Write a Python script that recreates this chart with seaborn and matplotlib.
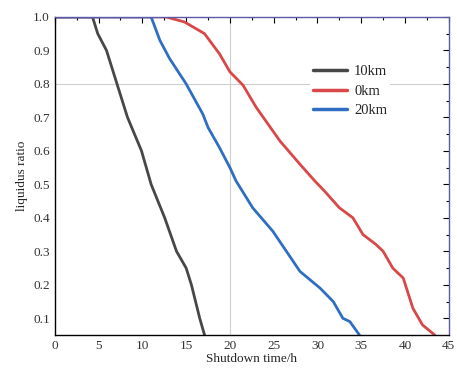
import numpy as np
import pandas as pd
import matplotlib
matplotlib.use('Agg')
import matplotlib.pyplot as plt
import seaborn as sns

# Curves (time in h, liquidus ratio)
t_10km = [0, 4.3, 4.9, 5.9, 7.1, 8.3, 9.9, 11.0, 12.55, 13.9, 15.0, 15.6, 16.55, 17.1]
r_10km = [1.0, 1.0, 0.95, 0.9, 0.8, 0.7, 0.6, 0.5, 0.4, 0.3, 0.25, 0.2, 0.1, 0.05]

t_0km = [0, 12.7, 14.8, 17.1, 18.8, 20.0, 21.5, 23.0, 25.7, 28.0, 29.7, 30.8, 32.5, 34.05,
         35.2, 36.7, 37.5, 38.6, 39.8, 40.9, 42.0, 43.4]
r_0km = [1.0, 1.0, 0.985, 0.95, 0.89, 0.836, 0.796, 0.73, 0.63, 0.56, 0.51, 0.48, 0.43, 0.40,
         0.35, 0.32, 0.30, 0.25, 0.22, 0.13, 0.08, 0.05]

t_20km = [0, 11.0, 12.0, 13.1, 15.0, 16.9, 17.5, 18.8, 20.0, 20.7, 22.6, 24.9, 28.0, 30.3,
          31.8, 32.9, 33.7, 34.8]
r_20km = [1.0, 1.0, 0.93, 0.876, 0.80, 0.71, 0.67, 0.61, 0.55, 0.51, 0.43, 0.36, 0.24, 0.19,
          0.15, 0.10, 0.09, 0.05]

series = ['10km', '0km', '20km']
colors = ['#474747', '#d94848', '#2f6fc2']


def build_frame():
    parts = []
    for name, t, r in zip(series, [t_10km, t_0km, t_20km], [r_10km, r_0km, r_20km]):
        parts.append(pd.DataFrame({'time': t, 'ratio': r, 'depth': name}))
    return pd.concat(parts, ignore_index=True)


def main():
    df = build_frame()
    sns.set_style('white')
    plt.rcParams['font.family'] = ['Liberation Serif', 'DejaVu Serif']

    fig = plt.figure(figsize=(4.57, 3.76), dpi=100)
    ax = fig.add_axes([0.12, 0.109, 0.862, 0.846])

    # light reference lines
    ax.axvline(20, color='#cfcfcf', lw=0.8, zorder=0)
    ax.axhline(0.8, color='#cfcfcf', lw=0.8, zorder=0)

    sns.lineplot(data=df, x='time', y='ratio', hue='depth', hue_order=series,
                 palette=colors, sort=False, estimator=None, lw=2.0, ax=ax)

    ax.set_xlim(0, 45)
    ax.set_ylim(0.05, 1.0)
    ax.set_xticks(np.arange(0, 46, 5))
    ax.set_xticks(np.arange(2.5, 45, 5), minor=True)
    ax.set_yticks(np.round(np.arange(0.1, 1.01, 0.1), 1))
    ax.set_yticks(np.round(np.arange(0.15, 1.0, 0.1), 2), minor=True)
    ax.set_yticklabels([f'{v:.1f}' for v in np.arange(0.1, 1.01, 0.1)])

    ax.tick_params(which='both', direction='in', top=True, right=True,
                   labelsize=9.5, colors='black', width=0.8)
    ax.tick_params(which='major', length=4)
    ax.tick_params(which='minor', length=2)
    ax.tick_params(axis='both', labelcolor='#333333')

    for side in ['left', 'bottom']:
        ax.spines[side].set_color('black')
        ax.spines[side].set_linewidth(1.0)
    for side in ['top', 'right']:
        ax.spines[side].set_color('#5a5aa8')
        ax.spines[side].set_linewidth(1.0)

    ax.set_xlabel('Shutdown time/h', fontsize=9.5, labelpad=1)
    ax.set_ylabel('liquidus ratio', fontsize=9.5, labelpad=4)

    leg = ax.legend(loc='upper left', bbox_to_anchor=(0.63, 0.882), frameon=True,
                    fontsize=10.5, handlelength=2.3, borderpad=0.2, labelspacing=0.45,
                    handletextpad=0.5)
    leg.get_frame().set_facecolor('white')
    leg.get_frame().set_edgecolor('none')
    leg.get_frame().set_alpha(1)
    for line in leg.get_lines():
        line.set_linewidth(2.5)

    fig.savefig('out.png', dpi=100)
    plt.close(fig)


if __name__ == '__main__':
    main()
